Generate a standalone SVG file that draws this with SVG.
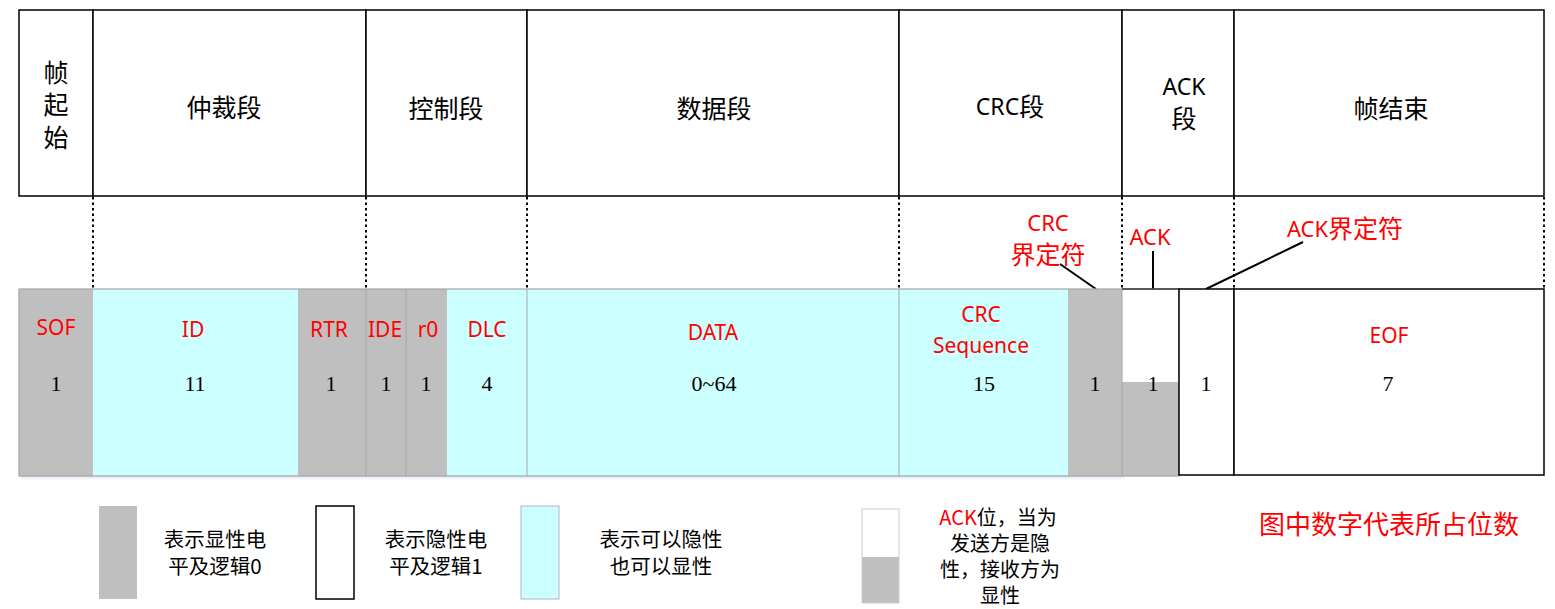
<svg xmlns="http://www.w3.org/2000/svg" width="1555" height="609" viewBox="0 0 1555 609">
<defs>
<style>
.box{fill:#fff;stroke:#000;stroke-width:1.5}
.dot{stroke:#000;stroke-width:2;stroke-dasharray:2.5,3;fill:none}
.gray{fill:#bfbfbf}
.cyan{fill:#ccffff}
.sep{stroke:#a6a6a6;stroke-width:1}
.hd{font-family:"Noto Sans","Noto Sans CJK SC",sans-serif;font-size:25px;fill:#000;text-anchor:middle;dominant-baseline:central}
.lat{font-size:23px}
.rl{font-family:"Noto Sans","Noto Sans CJK SC",sans-serif;font-size:21px;fill:#ff0000;text-anchor:middle;dominant-baseline:central}
.an{font-size:25px}
.num{font-family:"Liberation Serif",serif;font-size:22px;fill:#000;text-anchor:middle;dominant-baseline:central}
.lg{font-family:"Noto Sans CJK SC",sans-serif;font-size:20.5px;fill:#000;text-anchor:middle;dominant-baseline:central}
.lg2{font-family:"Noto Sans CJK SC",sans-serif;font-size:20px;fill:#000;text-anchor:middle;dominant-baseline:central}
.ln{stroke:#000;stroke-width:2;fill:none}
</style>
<filter id="sh" x="-5%" y="-5%" width="110%" height="120%">
<feGaussianBlur stdDeviation="1.5"/>
</filter>
</defs>

<g id="segments">
<rect class="box" x="19" y="10" width="74" height="186"/>
<rect class="box" x="93" y="10" width="273" height="186"/>
<rect class="box" x="366" y="10" width="161" height="186"/>
<rect class="box" x="527" y="10" width="372" height="186"/>
<rect class="box" x="899" y="10" width="223" height="186"/>
<rect class="box" x="1122" y="10" width="112" height="186"/>
<rect class="box" x="1234" y="10" width="310" height="186"/>
<text class="hd" x="56" y="72">帧</text>
<text class="hd" x="56" y="104">起</text>
<text class="hd" x="56" y="137">始</text>
<text class="hd" x="224" y="107">仲裁段</text>
<text class="hd" x="446" y="108">控制段</text>
<text class="hd" x="714" y="108">数据段</text>
<text class="hd" x="1010" y="106"><tspan class="lat">CRC</tspan>段</text>
<text class="hd lat" x="1184" y="86">ACK</text>
<text class="hd" x="1184" y="118">段</text>
<text class="hd" x="1391" y="108">帧结束</text>
</g>

<g id="connectors">
<line class="dot" x1="93" y1="197" x2="93" y2="289"/>
<line class="dot" x1="366" y1="197" x2="366" y2="289"/>
<line class="dot" x1="527" y1="197" x2="527" y2="289"/>
<line class="dot" x1="899" y1="197" x2="899" y2="289"/>
<line class="dot" x1="1122" y1="197" x2="1122" y2="289"/>
<line class="dot" x1="1234" y1="197" x2="1234" y2="289"/>
<line class="dot" x1="1544" y1="197" x2="1544" y2="289"/>
<line class="ln" x1="1060" y1="264" x2="1096" y2="289"/>
<line class="ln" x1="1153" y1="251" x2="1153" y2="289"/>
<line class="ln" x1="1303" y1="242" x2="1206" y2="289"/>
</g>

<g id="frame-fields">
<rect x="21" y="291" width="1103" height="187" fill="#dbe5f1" filter="url(#sh)"/>
<rect class="gray" x="19" y="289" width="74" height="187"/>
<rect class="cyan" x="93" y="289" width="205" height="187"/>
<rect class="gray" x="298" y="289" width="149" height="187"/>
<rect class="cyan" x="447" y="289" width="621" height="187"/>
<rect class="gray" x="1068" y="289" width="54" height="187"/>
<rect fill="#fff" x="1122" y="289" width="57" height="93"/>
<rect class="gray" x="1122" y="382" width="57" height="94"/>
<line class="sep" x1="366" y1="289" x2="366" y2="476"/>
<line class="sep" x1="406" y1="289" x2="406" y2="476"/>
<line class="sep" x1="527" y1="289" x2="527" y2="476"/>
<line class="sep" x1="899" y1="289" x2="899" y2="476"/>
<line class="sep" x1="1122" y1="289" x2="1122" y2="476"/>
<rect x="19" y="289" width="1160" height="187" fill="none" stroke="#a6a6a6" stroke-width="1.2"/>
<line x1="1122" y1="289" x2="1180" y2="289" stroke="#333" stroke-width="1.5"/>
<rect class="box" x="1179" y="289" width="55" height="186"/>
<rect class="box" x="1234" y="289" width="310" height="186"/>
</g>

<g id="field-labels">
<text class="rl" x="56" y="327">SOF</text>
<text class="rl" x="193" y="329">ID</text>
<text class="rl" x="329" y="329">RTR</text>
<text class="rl" x="385" y="329">IDE</text>
<text class="rl" x="428" y="329">r0</text>
<text class="rl" x="487" y="329">DLC</text>
<text class="rl" x="713" y="332">DATA</text>
<text class="rl" x="981" y="314">CRC</text>
<text class="rl" x="981" y="345">Sequence</text>
<text class="rl" x="1389" y="335">EOF</text>
<text class="num" x="56" y="383">1</text>
<text class="num" x="195" y="383">11</text>
<text class="num" x="331" y="383">1</text>
<text class="num" x="386" y="383">1</text>
<text class="num" x="426" y="383">1</text>
<text class="num" x="487" y="383">4</text>
<text class="num" x="714" y="383">0~64</text>
<text class="num" x="984" y="383">15</text>
<text class="num" x="1095" y="383">1</text>
<text class="num" x="1153" y="383">1</text>
<text class="num" x="1206" y="383">1</text>
<text class="num" x="1388" y="383">7</text>
</g>

<g id="annotations">
<text class="rl" x="1048" y="222" style="font-size:22px">CRC</text>
<text class="rl an" x="1048" y="254">界定符</text>
<text class="rl" x="1150" y="236" style="font-size:22px">ACK</text>
<text class="rl an" x="1345" y="228"><tspan style="font-size:22px">ACK</tspan>界定符</text>
</g>

<g id="legend-dominant">
<rect class="gray" x="99" y="506" width="38" height="93"/>
<text class="lg" x="215" y="538">表示显性电</text>
<text class="lg" x="215" y="565">平及逻辑0</text>
</g>
<g id="legend-recessive">
<rect class="box" x="316" y="506" width="38" height="93"/>
<text class="lg" x="436" y="538">表示隐性电</text>
<text class="lg" x="436" y="565">平及逻辑1</text>
</g>
<g id="legend-either">
<rect class="cyan" x="521" y="506" width="38" height="93" stroke="#b0b8c0" stroke-width="1"/>
<text class="lg" x="661" y="538">表示可以隐性</text>
<text class="lg" x="661" y="565">也可以显性</text>
</g>
<g id="legend-ack">
<rect fill="#fff" x="862" y="509" width="37" height="48"/>
<rect class="gray" x="862" y="557" width="37" height="46"/>
<rect x="862" y="509" width="37" height="94" fill="none" stroke="#c8ccd0" stroke-width="1"/>
<text class="lg2" x="998" y="516"><tspan fill="#ff0000">ACK</tspan>位，当为</text>
<text class="lg2" x="1000" y="542">发送方是隐</text>
<text class="lg2" x="1000" y="568">性，接收方为</text>
<text class="lg2" x="1000" y="594">显性</text>
</g>
<g id="note">
<text x="1389" y="522" style="font-family:'Noto Sans CJK SC',sans-serif;font-size:26px;fill:#ff0000;text-anchor:middle;dominant-baseline:central">图中数字代表所占位数</text>
</g>
</svg>
